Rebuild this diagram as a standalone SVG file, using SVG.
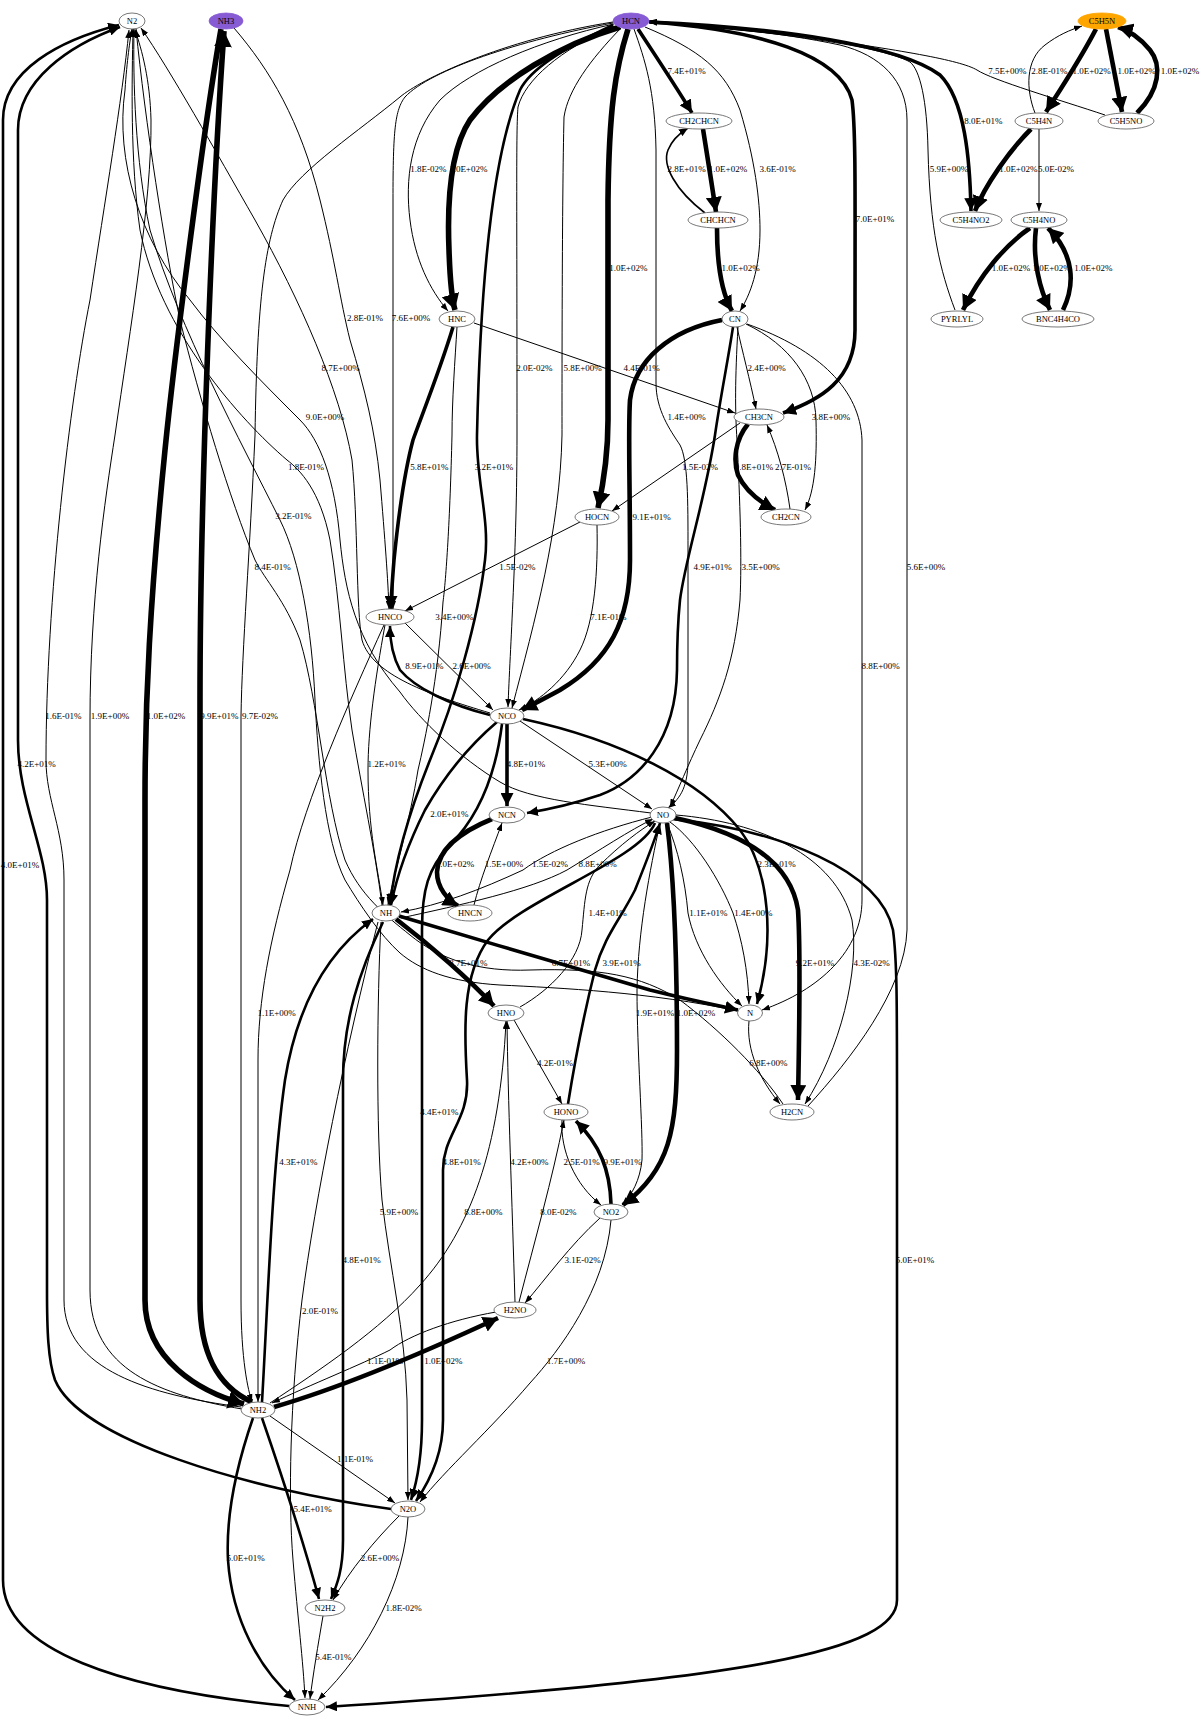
<svg xmlns="http://www.w3.org/2000/svg" width="1200" height="1730" viewBox="0 0 1200 1730">
<style>
.e path{fill:none;stroke:#000}
.w1{stroke-width:1}.w2{stroke-width:1.6}.w3{stroke-width:2.6}.w4{stroke-width:3.6}.w5{stroke-width:4.6}.w6{stroke-width:5.6}
.n ellipse{fill:#fff;stroke:#555;stroke-width:0.8}
.n ellipse.p{fill:#875bd4;stroke:#875bd4}
.n ellipse.o{fill:#ffa500;stroke:#ffa500}
text{font-family:"Liberation Serif","Times New Roman",serif;font-size:8.5px;text-anchor:middle;fill:#000}
.e text{font-size:9px}
</style>
<defs>
<marker id="m1" viewBox="0 0 8 6" refX="8" refY="3" markerWidth="8" markerHeight="6" orient="auto" markerUnits="userSpaceOnUse"><path d="M0,0L8,3L0,6z"/></marker>
<marker id="m2" viewBox="0 0 9 8" refX="9" refY="4" markerWidth="9" markerHeight="8" orient="auto" markerUnits="userSpaceOnUse"><path d="M0,0L9,4L0,8z"/></marker>
<marker id="m3" viewBox="0 0 11 10" refX="11" refY="5" markerWidth="11" markerHeight="10" orient="auto" markerUnits="userSpaceOnUse"><path d="M0,0L11,5L0,10z"/></marker>
<marker id="m4" viewBox="0 0 13 13" refX="13" refY="6.5" markerWidth="13" markerHeight="13" orient="auto" markerUnits="userSpaceOnUse"><path d="M0,0L13,6.5L0,13z"/></marker>
<marker id="m5" viewBox="0 0 15 16" refX="15" refY="8" markerWidth="15" markerHeight="16" orient="auto" markerUnits="userSpaceOnUse"><path d="M0,0L15,8L0,16z"/></marker>
<marker id="m6" viewBox="0 0 16 18" refX="16" refY="9" markerWidth="16" markerHeight="18" orient="auto" markerUnits="userSpaceOnUse"><path d="M0,0L16,9L0,18z"/></marker>
</defs>
<rect width="1200" height="1730" fill="#fff"/>
<g id="connectors" class="e">
<path class="w5" marker-end="url(#m5)" d="M1096,29 C1080,60 1060,90 1046,112"/><text x="1091.7" y="73.7">1.0E+02%</text>
<path class="w1" marker-end="url(#m1)" d="M1035,113 C1026,90 1025,60 1045,45 C1058,35 1070,30 1082,26"/><text x="1049.3" y="73.7">2.8E-01%</text>
<path class="w5" marker-end="url(#m5)" d="M1106,29 C1112,60 1118,90 1122,112"/><text x="1136.7" y="73.7">1.0E+02%</text>
<path class="w5" marker-end="url(#m5)" d="M1137,113 C1160,90 1162,65 1150,50 C1140,38 1128,30 1118,27"/><text x="1180" y="73.7">1.0E+02%</text>
<path class="w1" marker-end="url(#m1)" d="M1105,115 C1060,100 992,80 977,70 C960,60 900,50 800,36 C720,28 670,24 649,22"/><text x="1007.3" y="73.7">7.5E+00%</text>
<path class="w5" marker-end="url(#m5)" d="M1031,129 C1010,150 985,185 975,211"/><text x="1018.3" y="172.3">1.0E+02%</text>
<path class="w1" marker-end="url(#m1)" d="M1039,129 L1039,211"/><text x="1056" y="172.3">5.0E-02%</text>
<path class="w5" marker-end="url(#m5)" d="M1030,228 C1005,245 980,275 963,310"/><text x="1011" y="271.3">1.0E+02%</text>
<path class="w5" marker-end="url(#m5)" d="M1036,228 C1032,260 1040,290 1050,310"/><text x="1051.7" y="271.3">1.0E+02%</text>
<path class="w5" marker-end="url(#m5)" d="M1063,310 C1075,285 1075,255 1048,228"/><text x="1093.3" y="271.3">1.0E+02%</text>
<path class="w4" marker-end="url(#m4)" d="M649,22 C780,28 900,45 940,75 C965,100 970,160 971,211"/><text x="983.3" y="123.7">8.0E+01%</text>
<path class="w1" marker-end="url(#m1)" d="M955,310 C940,270 930,230 928,150 C927,100 920,70 910,62 C880,45 760,30 649,22"/><text x="949" y="172.3">5.9E+00%</text>
<path class="w1" marker-end="url(#m1)" d="M808,1106 C850,1060 905,990 907,930 L907,120 C907,80 880,55 840,45 C780,32 700,25 649,21"/><text x="926" y="569.7">5.6E+00%</text>
<path class="w4" marker-end="url(#m4)" d="M638,29 C655,55 675,85 692,113"/><text x="686.7" y="73.7">7.4E+01%</text>
<path class="w5" marker-end="url(#m5)" d="M703,129 C707,155 712,185 716,212"/><text x="728" y="172">1.0E+02%</text>
<path class="w2" marker-end="url(#m2)" d="M705,213 C675,190 662,165 668,150 C672,140 680,133 688,128"/><text x="686.7" y="172">2.8E+01%</text>
<path class="w5" marker-end="url(#m5)" d="M717,228 C717,260 720,290 732,311"/><text x="740.7" y="271.3">1.0E+02%</text>
<path class="w1" marker-end="url(#m1)" d="M645,27 C700,50 725,70 740,110 C755,160 760,200 760,230 C760,270 750,295 740,311"/><text x="777.7" y="172">3.6E-01%</text>
<path class="w6" marker-end="url(#m6)" d="M620,27 C560,45 500,80 470,120 C450,150 447,200 449,250 C450,280 452,300 455,310"/><text x="468.3" y="172">1.0E+02%</text>
<path class="w1" marker-end="url(#m1)" d="M614,24 C540,40 470,70 440,100 C410,135 405,180 410,220 C415,260 430,290 448,311"/><text x="428.3" y="172">1.8E-02%</text>
<path class="w6" marker-end="url(#m6)" d="M628,29 C615,70 609,110 608,200 L608,420 C608,460 602,490 598,508"/><text x="628.3" y="271.3">1.0E+02%</text>
<path class="w4" marker-end="url(#m4)" d="M650,22 C760,30 840,55 852,100 C856,130 855,200 855,330 C855,380 820,400 783,413"/><text x="875" y="222.3">7.0E+01%</text>
<path class="w1" marker-end="url(#m1)" d="M474,323 L735,413"/><text x="641.7" y="371.3">4.4E-01%</text>
<path class="w1" marker-end="url(#m1)" d="M737,327 C742,350 750,380 756,409"/><text x="766.7" y="371.3">2.4E+00%</text>
<path class="w5" marker-end="url(#m5)" d="M748,424 C735,440 733,460 738,475 C745,490 760,502 775,510"/><text x="754" y="470.3">9.8E+01%</text>
<path class="w1" marker-end="url(#m1)" d="M790,509 C786,480 778,450 767,425"/><text x="793" y="470.3">2.7E-01%</text>
<path class="w1" marker-end="url(#m1)" d="M746,324 C790,345 815,380 816,420 C817,460 815,490 805,510"/><text x="831" y="420.3">3.8E+00%</text>
<path class="w1" marker-end="url(#m1)" d="M740,423 L612,511"/><text x="700" y="470.3">1.5E-02%</text>
<path class="w1" marker-end="url(#m1)" d="M747,324 C820,350 860,390 862,440 L862,900 C862,950 820,990 762,1010"/><text x="880.7" y="668.7">8.8E+00%</text>
<path class="w1" marker-end="url(#m1)" d="M634,29 C645,60 655,90 656,150 L656,383 C656,410 670,430 680,445 C688,460 688,500 688,550 L688,760 C688,790 678,800 668,808"/><text x="686.7" y="420.3">1.4E+00%</text>
<path class="w1" marker-end="url(#m1)" d="M614,26 C560,50 525,80 518,107 C516,130 517,200 517,435 C517,550 510,650 508,707"/><text x="534.3" y="371.3">2.0E-02%</text>
<path class="w1" marker-end="url(#m1)" d="M621,28 C590,60 568,90 564,117 C562,200 562,380 562,435 C560,530 535,620 512,708"/><text x="582.7" y="371.3">5.8E+00%</text>
<path class="w3" marker-end="url(#m3)" d="M613,25 C560,50 530,70 520,90 C490,160 480,300 477,435 C476,480 490,520 485,560 C478,620 455,700 430,760 C410,810 395,860 390,905"/><text x="494" y="470.3">3.2E+01%</text>
<path class="w1" marker-end="url(#m1)" d="M613,23 C520,40 430,70 405,97 C395,110 393,130 393,200 L393,609"/><text x="411" y="321">7.6E+00%</text>
<path class="w1" marker-end="url(#m1)" d="M613,22 C500,40 420,80 400,97 C360,130 300,170 283,200 C265,240 257,300 255,435 C250,550 242,650 241,716 L241,1300 C241,1360 248,1390 252,1402"/><text x="260" y="718.7">9.7E-02%</text>
<path class="w1" marker-end="url(#m1)" d="M234,28 C270,70 300,120 320,200 C335,260 340,300 350,340 C365,390 375,430 380,480 C385,540 388,580 389,609"/><text x="365" y="321.3">2.8E-01%</text>
<path class="w6" marker-end="url(#m6)" d="M221,29 C205,120 175,350 165,450 C150,600 145,700 145,800 L145,1300 C145,1360 200,1392 244,1404"/><text x="166" y="718.7">1.0E+02%</text>
<path class="w6" marker-end="url(#m6)" d="M252,1402 C215,1385 200,1350 200,1300 L200,700 C200,500 212,200 224,31"/><text x="219.3" y="718.7">9.9E+01%</text>
<path class="w3" marker-end="url(#m3)" d="M289,1706 C120,1690 3,1650 3,1580 L3,120 C3,70 60,40 119,25"/><text x="20" y="868">4.0E+01%</text>
<path class="w3" marker-end="url(#m3)" d="M391,1509 C250,1490 80,1440 55,1380 C48,1360 47,1330 47,1290 L47,900 C47,850 18,800 18,740 L18,130 C18,80 70,45 120,27"/><text x="36.7" y="767.3">4.2E+01%</text>
<path class="w1" marker-end="url(#m1)" d="M241,1407 C150,1395 64,1370 64,1300 L64,880 C64,830 46,800 46,760 C46,600 70,400 90,300 C105,200 122,100 129,30"/><text x="63.3" y="718.7">1.6E-01%</text>
<path class="w1" marker-end="url(#m1)" d="M242,1409 C160,1395 90,1370 90,1290 L90,720 C90,600 105,500 115,435 C130,330 152,200 151,120 C150,80 142,50 135,30"/><text x="110" y="718.7">1.9E+00%</text>
<path class="w1" marker-end="url(#m1)" d="M490,713 C430,695 372,675 362,640 C356,610 358,520 352,460 C340,390 300,300 255,220 C215,150 170,70 141,28"/><text x="340.7" y="371.3">8.7E+00%</text>
<path class="w1" marker-end="url(#m1)" d="M651,813 C590,805 530,800 500,782 C460,758 420,720 400,692 C355,640 345,590 340,540 C335,480 320,440 300,420 C260,380 220,340 190,300 C140,240 115,160 125,90 C127,60 130,40 132,29"/><text x="325" y="420.3">9.0E+00%</text>
<path class="w1" marker-end="url(#m1)" d="M382,905 C375,850 362,790 352,730 C343,670 340,600 330,540 C320,490 300,470 287,460 C240,420 160,330 140,230 C130,160 132,80 133,29"/><text x="306" y="470.3">1.8E-01%</text>
<path class="w1" marker-end="url(#m1)" d="M738,1011 C650,992 560,988 500,985 C450,982 420,970 400,953 C380,935 360,905 345,880 C325,840 318,760 315,700 C312,630 300,560 280,520 C240,440 180,330 150,230 C135,160 133,80 134,29"/><text x="293.3" y="519.3">3.2E-01%</text>
<path class="w1" marker-end="url(#m1)" d="M783,1104 C760,1070 720,1030 680,1000 C640,975 600,968 530,970 C480,972 440,960 410,935 C385,915 360,895 345,860 C325,800 318,700 300,640 C285,600 265,580 255,560 C230,500 200,400 180,320 C165,250 145,120 136,29"/><text x="272.7" y="569.7">8.4E-01%</text>
<path class="w4" marker-end="url(#m4)" d="M453,327 C440,370 420,420 413,440 C405,470 398,520 394,560 C392,585 391,598 391,609"/><text x="429.3" y="470.3">5.8E+01%</text>
<path class="w1" marker-end="url(#m1)" d="M457,327 C455,360 452,400 452,435 C450,520 446,580 443,602 C438,680 425,740 418,770 C410,820 395,870 388,905"/><text x="454.3" y="619.7">3.4E+00%</text>
<path class="w1" marker-end="url(#m1)" d="M580,522 L405,611"/><text x="517.3" y="569.7">1.5E-02%</text>
<path class="w1" marker-end="url(#m1)" d="M597,525 C598,570 595,620 580,650 C565,680 540,700 519,710"/><text x="608.3" y="619.7">7.1E-01%</text>
<path class="w5" marker-end="url(#m5)" d="M722,320 C670,330 635,360 630,400 C628,430 630,480 630,560 C630,620 610,660 560,690 C545,698 532,705 522,710"/><text x="651.7" y="519.7">9.1E+01%</text>
<path class="w3" marker-end="url(#m3)" d="M733,327 C728,360 720,400 715,435 C705,500 685,560 680,600 C677,630 677,650 677,670 C676,740 640,780 600,795 C570,805 545,810 527,813"/><text x="712.7" y="569.7">4.9E+01%</text>
<path class="w1" marker-end="url(#m1)" d="M738,327 C735,380 735,410 737,440 C740,500 742,560 740,600 C735,660 720,700 700,740 C688,765 678,790 670,807"/><text x="760.7" y="569.7">3.5E+00%</text>
<path class="w1" marker-end="url(#m1)" d="M405,623 L493,710"/><text x="471.7" y="668.7">2.6E+00%</text>
<path class="w3" marker-end="url(#m3)" d="M490,715 C450,705 415,688 400,670 C392,655 390,640 390,626"/><text x="424.3" y="668.7">8.9E+01%</text>
<path class="w1" marker-end="url(#m1)" d="M385,625 C375,680 368,730 368,770 C368,830 378,870 383,905"/><text x="386.7" y="767.3">1.2E+01%</text>
<path class="w4" marker-end="url(#m4)" d="M507,724 L507,806"/><text x="526" y="767.3">4.8E+01%</text>
<path class="w1" marker-end="url(#m1)" d="M520,721 L652,809"/><text x="607.7" y="767.3">5.3E+00%</text>
<path class="w3" marker-end="url(#m3)" d="M497,722 C470,745 445,775 425,810 C410,840 398,870 391,905"/><text x="449.3" y="817.3">2.0E+01%</text>
<path class="w3" marker-end="url(#m3)" d="M523,719 C620,740 700,780 740,830 C770,870 775,940 757,1004"/><text x="776.7" y="867.3">2.3E+01%</text>
<path class="w3" marker-end="url(#m3)" d="M502,724 C495,780 475,820 450,845 C428,868 422,890 422,930 L422,1420 C422,1460 416,1485 411,1500"/><text x="439.3" y="1115.3">4.4E+01%</text>
<path class="w5" marker-end="url(#m5)" d="M492,819 C460,832 438,850 437,872 C437,888 448,900 458,906"/><text x="455" y="867.3">1.0E+02%</text>
<path class="w1" marker-end="url(#m1)" d="M474,905 C480,880 492,850 502,823"/><text x="504" y="867.3">1.5E+00%</text>
<path class="w1" marker-end="url(#m1)" d="M652,817 C600,830 550,850 523,870 C480,890 440,905 401,912"/><text x="550" y="867.3">1.5E-02%</text>
<path class="w1" marker-end="url(#m1)" d="M401,918 C460,905 530,890 567,870 C600,850 630,830 653,819"/><text x="597.7" y="867.3">8.8E+00%</text>
<path class="w5" marker-end="url(#m5)" d="M396,919 C430,945 470,980 494,1006"/><text x="468.3" y="966.3">8.7E+01%</text>
<path class="w4" marker-end="url(#m4)" d="M399,916 C480,940 580,970 650,990 C690,1000 715,1005 738,1010"/><text x="571" y="966.3">6.7E+01%</text>
<path class="w1" marker-end="url(#m1)" d="M520,1007 C550,990 580,960 582,930 C585,900 585,880 600,865 C620,845 640,830 655,821"/><text x="607.7" y="916.3">1.4E+01%</text>
<path class="w3" marker-end="url(#m3)" d="M568,1104 C575,1060 585,1010 595,970 C605,935 620,920 635,890 C645,865 655,840 660,823"/><text x="621.7" y="966.3">3.9E+01%</text>
<path class="w1" marker-end="url(#m1)" d="M667,823 C678,850 685,880 688,913 C695,950 720,985 742,1006"/><text x="708.3" y="916.3">1.1E+01%</text>
<path class="w1" marker-end="url(#m1)" d="M670,822 C695,840 720,880 733,913 C742,940 748,970 749,1004"/><text x="753.3" y="916.3">1.4E+00%</text>
<path class="w5" marker-end="url(#m5)" d="M667,823 C673,870 677,950 677,1050 C677,1130 670,1170 623,1205"/><text x="696" y="1015.7">1.0E+02%</text>
<path class="w1" marker-end="url(#m1)" d="M660,823 C650,870 638,930 637,990 C637,1050 643,1130 642,1160 C640,1180 632,1195 622,1205"/><text x="655" y="1015.7">1.9E+01%</text>
<path class="w5" marker-end="url(#m5)" d="M675,818 C740,832 790,860 798,910 C800,940 800,1000 798,1100"/><text x="815" y="966.3">9.2E+01%</text>
<path class="w1" marker-end="url(#m1)" d="M676,815 C760,822 835,855 852,920 C860,970 840,1050 805,1104"/><text x="871.7" y="966.3">4.3E-02%</text>
<path class="w1" marker-end="url(#m1)" d="M749,1021 C746,1050 760,1080 780,1104"/><text x="768.3" y="1065.7">6.8E+00%</text>
<path class="w3" marker-end="url(#m3)" d="M672,819 C780,830 880,870 893,930 C897,960 897,1000 897,1100 L897,1600 C897,1650 750,1680 326,1707"/><text x="915" y="1263">5.0E+01%</text>
<path class="w1" marker-end="url(#m1)" d="M514,1020 L562,1104"/><text x="555" y="1065.7">4.2E-01%</text>
<path class="w1" marker-end="url(#m1)" d="M562,1120 C560,1150 575,1185 601,1205"/><text x="581.7" y="1164.7">2.5E-01%</text>
<path class="w4" marker-end="url(#m4)" d="M611,1204 C610,1170 600,1145 576,1121"/><text x="622.7" y="1164.7">9.9E+01%</text>
<path class="w3" marker-end="url(#m3)" d="M655,823 C640,860 520,900 488,940 C462,975 464,1030 467,1080 C469,1120 443,1135 443,1170 L443,1420 C443,1460 425,1488 416,1501"/><text x="461.7" y="1164.7">4.8E+01%</text>
<path class="w3" marker-end="url(#m3)" d="M262,1402 C268,1300 272,1170 285,1080 C298,1000 330,950 373,919"/><text x="298.3" y="1164.7">4.3E+01%</text>
<path class="w1" marker-end="url(#m1)" d="M384,625 C350,700 305,800 290,870 C270,940 258,1000 258,1060 L258,1402"/><text x="276.7" y="1015.7">1.1E+00%</text>
<path class="w3" marker-end="url(#m3)" d="M383,922 C360,970 343,1020 343,1080 L343,1540 C343,1570 337,1585 331,1599"/><text x="361.7" y="1263">4.8E+01%</text>
<path class="w1" marker-end="url(#m1)" d="M381,922 C377,1000 376,1130 382,1200 C390,1270 405,1330 407,1400 L408,1500"/><text x="399" y="1214.7">5.9E+00%</text>
<path class="w1" marker-end="url(#m1)" d="M378,922 C345,1050 315,1200 302,1300 C290,1400 288,1500 293,1560 C298,1620 303,1660 305,1698"/><text x="320" y="1313.7">2.0E-01%</text>
<path class="w1" marker-end="url(#m1)" d="M270,1403 C320,1370 380,1330 420,1285 C470,1230 500,1150 506,1021"/><text x="483.3" y="1214.7">8.8E+00%</text>
<path class="w1" marker-end="url(#m1)" d="M515,1302 C512,1200 508,1100 507,1021"/><text x="529.3" y="1164.7">4.2E+00%</text>
<path class="w1" marker-end="url(#m1)" d="M519,1302 C535,1240 552,1180 564,1120"/><text x="558.3" y="1214.7">8.0E-02%</text>
<path class="w1" marker-end="url(#m1)" d="M600,1218 C570,1245 545,1280 525,1303"/><text x="582.7" y="1263">3.1E-02%</text>
<path class="w1" marker-end="url(#m1)" d="M611,1220 C605,1290 560,1350 530,1383 C490,1430 445,1470 420,1502"/><text x="566" y="1363.7">1.7E+00%</text>
<path class="w5" marker-end="url(#m5)" d="M274,1407 C350,1385 440,1345 498,1318"/><text x="443.3" y="1363.7">1.0E+02%</text>
<path class="w1" marker-end="url(#m1)" d="M496,1312 C450,1320 410,1335 390,1350 C360,1365 310,1385 272,1403"/><text x="385" y="1363.7">1.1E-01%</text>
<path class="w1" marker-end="url(#m1)" d="M270,1416 L395,1503"/><text x="355" y="1462.3">1.1E-01%</text>
<path class="w3" marker-end="url(#m3)" d="M262,1418 C280,1470 300,1530 319,1599"/><text x="312.7" y="1512">5.4E+01%</text>
<path class="w3" marker-end="url(#m3)" d="M253,1418 C235,1470 226,1520 228,1560 C232,1620 260,1670 295,1700"/><text x="245.7" y="1561.3">5.0E+01%</text>
<path class="w1" marker-end="url(#m1)" d="M399,1516 C375,1540 350,1570 333,1600"/><text x="380" y="1561.3">2.6E+00%</text>
<path class="w1" marker-end="url(#m1)" d="M408,1517 C405,1580 370,1650 318,1700"/><text x="403.7" y="1611">1.8E-02%</text>
<path class="w1" marker-end="url(#m1)" d="M323,1616 C318,1645 313,1675 310,1699"/><text x="333.3" y="1660.3">5.4E-01%</text>
</g>
<g class="n">
<g id="N2"><ellipse cx="132" cy="21" rx="13" ry="8"/><text x="132" y="24">N2</text></g>
<g id="NH3"><ellipse class="p" cx="226" cy="21" rx="17" ry="8"/><text x="226" y="24">NH3</text></g>
<g id="HCN"><ellipse class="p" cx="631" cy="21" rx="18" ry="8"/><text x="631" y="24">HCN</text></g>
<g id="C5H5N"><ellipse class="o" cx="1102" cy="21" rx="24" ry="8"/><text x="1102" y="24">C5H5N</text></g>
<g id="CH2CHCN"><ellipse cx="699" cy="121" rx="33" ry="8"/><text x="699" y="124">CH2CHCN</text></g>
<g id="C5H4N"><ellipse cx="1039" cy="121" rx="24" ry="8"/><text x="1039" y="124">C5H4N</text></g>
<g id="C5H5NO"><ellipse cx="1126" cy="121" rx="28" ry="8"/><text x="1126" y="124">C5H5NO</text></g>
<g id="CHCHCN"><ellipse cx="718" cy="220" rx="30" ry="8"/><text x="718" y="223">CHCHCN</text></g>
<g id="C5H4NO2"><ellipse cx="971" cy="220" rx="31" ry="8"/><text x="971" y="223">C5H4NO2</text></g>
<g id="C5H4NO"><ellipse cx="1039" cy="220" rx="28" ry="8"/><text x="1039" y="223">C5H4NO</text></g>
<g id="HNC"><ellipse cx="457" cy="319" rx="18" ry="8"/><text x="457" y="322">HNC</text></g>
<g id="CN"><ellipse cx="735" cy="319" rx="13" ry="8"/><text x="735" y="322">CN</text></g>
<g id="PYRLYL"><ellipse cx="957" cy="319" rx="26" ry="8"/><text x="957" y="322">PYRLYL</text></g>
<g id="BNC4H4CO"><ellipse cx="1058" cy="319" rx="36" ry="8"/><text x="1058" y="322">BNC4H4CO</text></g>
<g id="CH3CN"><ellipse cx="759" cy="417" rx="25" ry="8"/><text x="759" y="420">CH3CN</text></g>
<g id="HOCN"><ellipse cx="597" cy="517" rx="22" ry="8"/><text x="597" y="520">HOCN</text></g>
<g id="CH2CN"><ellipse cx="786" cy="517" rx="25" ry="8"/><text x="786" y="520">CH2CN</text></g>
<g id="HNCO"><ellipse cx="390" cy="617" rx="24" ry="8"/><text x="390" y="620">HNCO</text></g>
<g id="NCO"><ellipse cx="507" cy="716" rx="17" ry="8"/><text x="507" y="719">NCO</text></g>
<g id="NCN"><ellipse cx="507" cy="815" rx="18" ry="8"/><text x="507" y="818">NCN</text></g>
<g id="NO"><ellipse cx="663" cy="815" rx="13" ry="8"/><text x="663" y="818">NO</text></g>
<g id="NH"><ellipse cx="386" cy="913" rx="14" ry="8"/><text x="386" y="916">NH</text></g>
<g id="HNCN"><ellipse cx="470" cy="913" rx="22" ry="8"/><text x="470" y="916">HNCN</text></g>
<g id="HNO"><ellipse cx="506" cy="1013" rx="18" ry="8"/><text x="506" y="1016">HNO</text></g>
<g id="N"><ellipse cx="750" cy="1013" rx="12.5" ry="8"/><text x="750" y="1016">N</text></g>
<g id="HONO"><ellipse cx="566" cy="1112" rx="22" ry="8"/><text x="566" y="1115">HONO</text></g>
<g id="H2CN"><ellipse cx="792" cy="1112" rx="22" ry="8"/><text x="792" y="1115">H2CN</text></g>
<g id="NO2"><ellipse cx="611" cy="1212" rx="17" ry="8"/><text x="611" y="1215">NO2</text></g>
<g id="H2NO"><ellipse cx="515" cy="1310" rx="21" ry="8"/><text x="515" y="1313">H2NO</text></g>
<g id="NH2"><ellipse cx="258" cy="1410" rx="17" ry="8"/><text x="258" y="1413">NH2</text></g>
<g id="N2O"><ellipse cx="408" cy="1509" rx="17" ry="8"/><text x="408" y="1512">N2O</text></g>
<g id="N2H2"><ellipse cx="325" cy="1608" rx="20" ry="8"/><text x="325" y="1611">N2H2</text></g>
<g id="NNH"><ellipse cx="307" cy="1707" rx="18" ry="8"/><text x="307" y="1710">NNH</text></g>
</g>
</svg>
